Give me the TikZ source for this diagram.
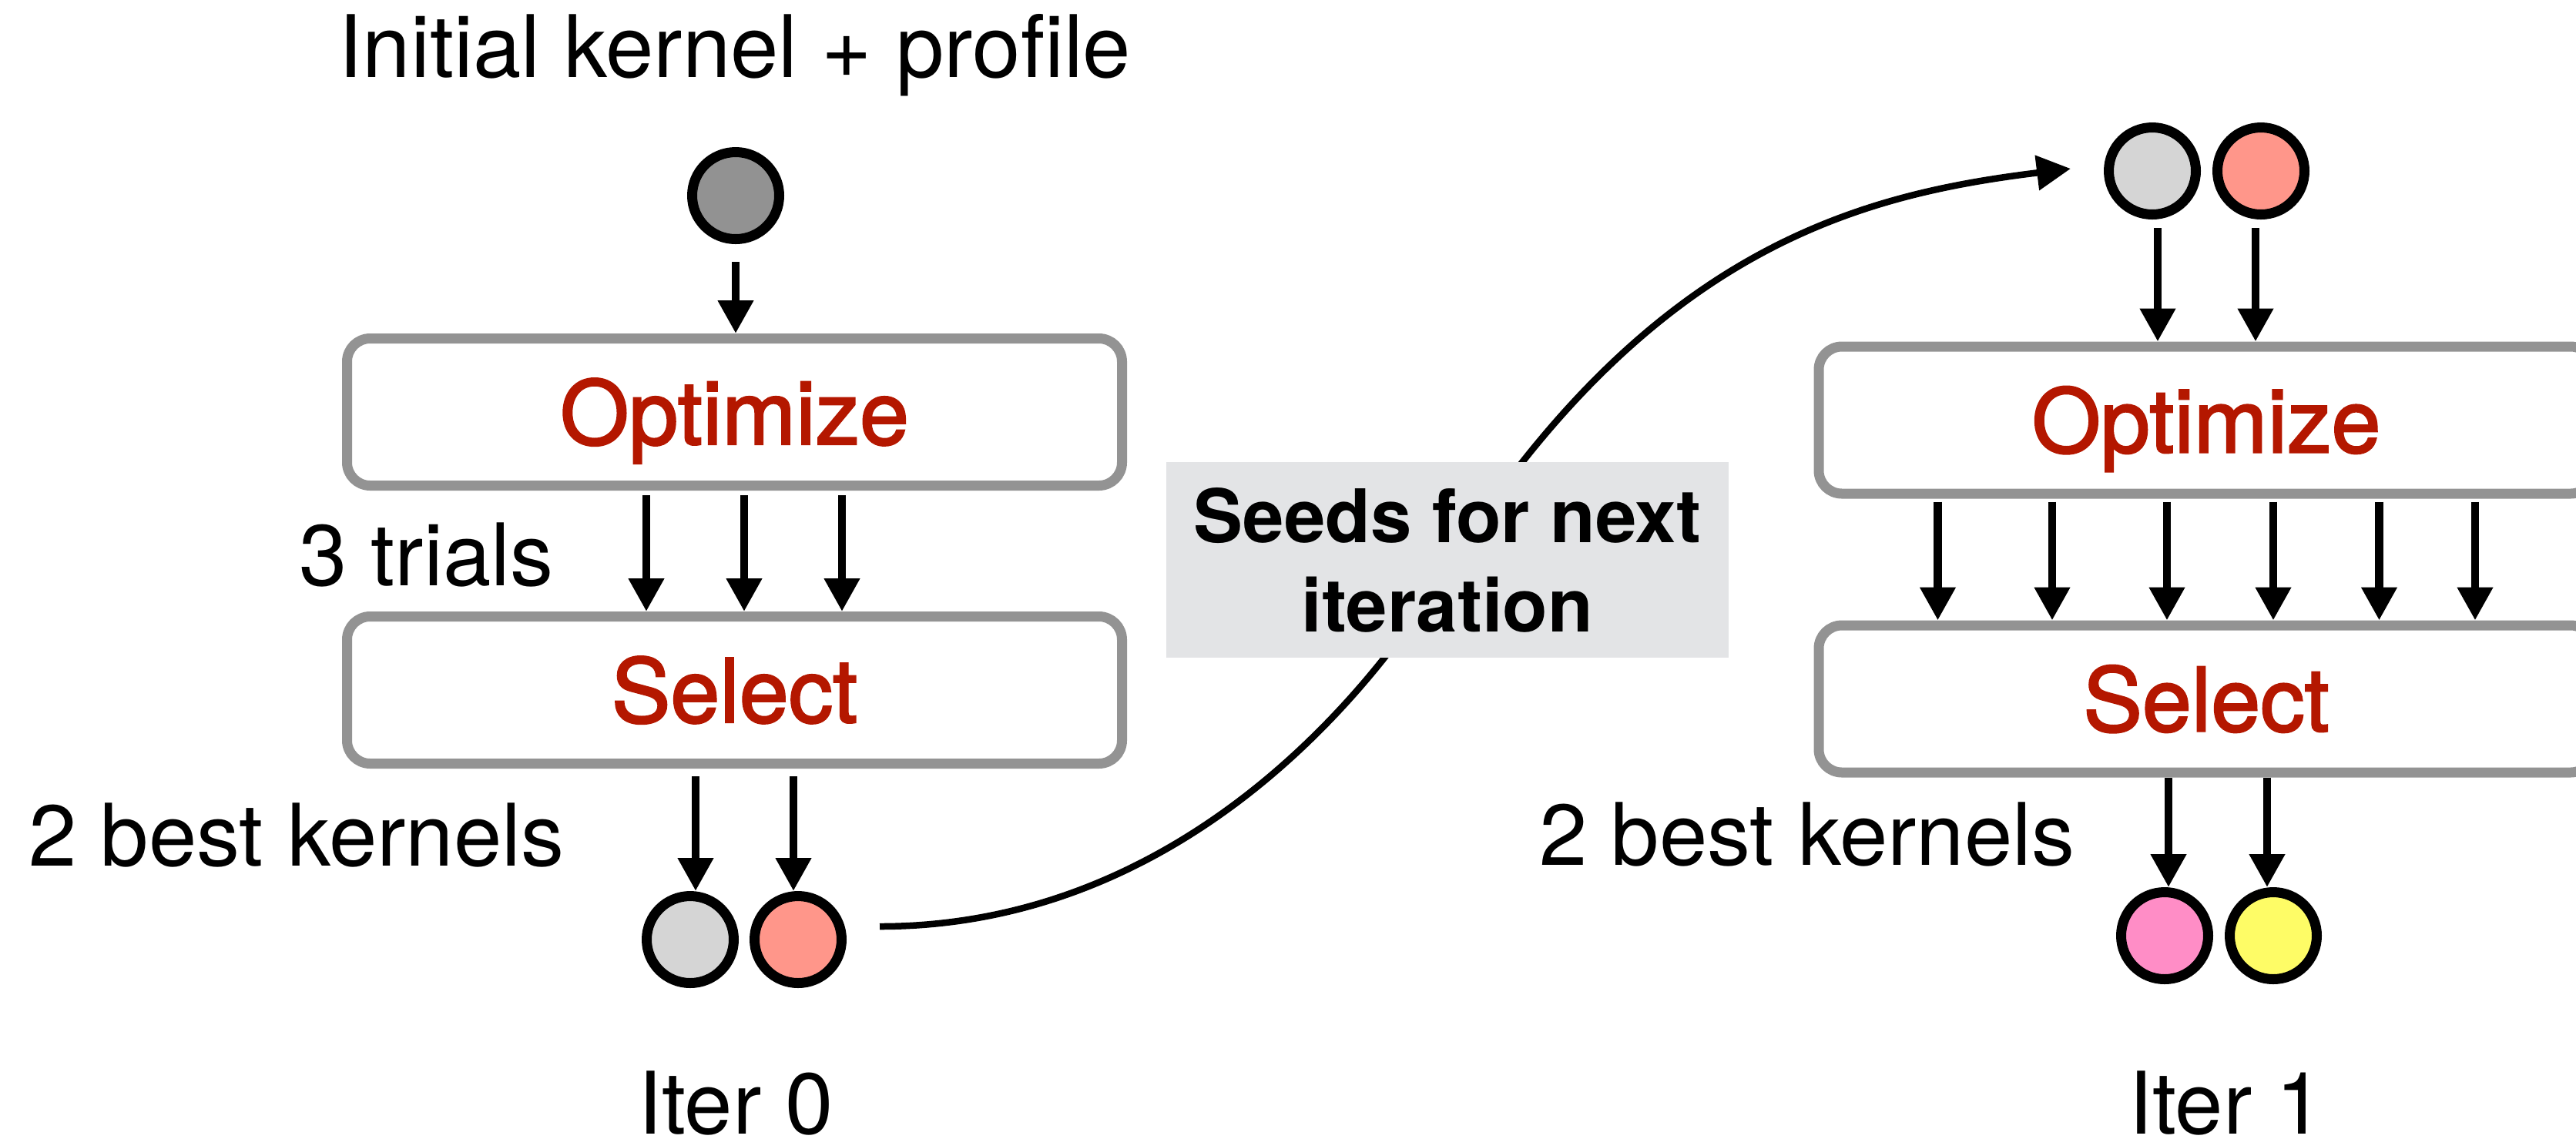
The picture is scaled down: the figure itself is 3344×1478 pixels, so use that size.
\documentclass[tikz,border=0pt]{standalone}
\usepackage{fontspec}
\setmainfont{TeX Gyre Heros}
\newfontfamily\stagefont[FakeBold=2]{TeX Gyre Heros}
\usetikzlibrary{arrows.meta,calc}

\definecolor{boxline}{HTML}{939393}
\definecolor{stepred}{HTML}{B41700}
\definecolor{seedfill}{HTML}{E3E4E6}
\definecolor{kgray}{HTML}{929292}
\definecolor{klight}{HTML}{D5D5D5}
\definecolor{ksalmon}{HTML}{FF968A}
\definecolor{kpink}{HTML}{FF8DC6}
\definecolor{kyellow}{HTML}{FEFC66}

\begin{document}
\begin{tikzpicture}[x=0.1mm, y=-0.1mm,
  stagebox/.style={draw=boxline, line width=1.3mm, rounded corners=3mm,
    minimum width=100.6mm, minimum height=19.1mm, text=stepred,
    font=\stagefont\fontsize{32.7}{39}\selectfont, text height=8.4mm, text depth=0pt, inner sep=0pt},
  kernel/.style={circle, draw=black, line width=1.3mm, minimum size=11.3mm, inner sep=0pt},
  lbl/.style={font=\fontsize{31.9}{38}\selectfont, inner sep=0pt},
  arr/.style={line width=1.05mm, -{Triangle[width=4.4mm,length=4.3mm]}},
  seedarr/.style={line width=0.85mm, -{Triangle[width=4.4mm,length=4.4mm]}},
  seedbox/.style={fill=seedfill, minimum width=73mm, minimum height=25.4mm, inner sep=0pt,
    align=center, font=\fontsize{27.3}{33}\bfseries\selectfont},
]
\useasboundingbox (0,0) rectangle (3344,1478);

% ---------------- iteration 0 ----------------
\node[lbl, anchor=base] (inittxt) at (954,100) {Initial kernel + profile};
\node[kernel, fill=kgray] (init) at (955,254) {};
\node[stagebox] (opt0) at (953.5,535) {Optimize};
\node[stagebox] (sel0) at (953.5,896) {Select};
\node[kernel, fill=klight] (b0g) at (896,1220) {};
\node[kernel, fill=ksalmon] (b0r) at (1036,1220) {};
\node[lbl, anchor=base east] (trials0) at (719,760) {3 trials};
\node[lbl, anchor=base east] (best0) at (733,1124) {2 best kernels};
\node[lbl, anchor=base] (iter0) at (955,1472) {Iter 0};

\draw[arr] ($(init.south)+(0,23)$) -- (init.south |- opt0.north);
\foreach \dx in {-114.5,12.5,139.5}
  \draw[arr] ($(opt0.south)+(\dx,6)$) -- ($(sel0.north)+(\dx,0)$);
\coordinate (in0g) at ($(b0g.north)+(7,0)$);
\coordinate (in0r) at ($(b0r.north)+(-6,0)$);
\draw[arr] ($(in0g |- sel0.south)+(0,10)$) -- (in0g);
\draw[arr] ($(in0r |- sel0.south)+(0,10)$) -- (in0r);

% ---------------- iteration 1 ----------------
\node[kernel, fill=klight] (t1g) at (2794,222) {};
\node[kernel, fill=ksalmon] (t1r) at (2935,222) {};
\node[stagebox] (opt1) at (2864,545.5) {Optimize};
\node[stagebox] (sel1) at (2864,907.5) {Select};
\node[kernel, fill=kpink] (b1p) at (2810,1215) {};
\node[kernel, fill=kyellow] (b1y) at (2951,1215) {};
\node[lbl, anchor=base east] (best1) at (2694,1123) {2 best kernels};
\node[lbl, anchor=base] (iter1) at (2890,1472) {Iter 1};

\coordinate (out1g) at ($(t1g.south)+(7,0)$);
\coordinate (out1r) at ($(t1r.south)+(-7,0)$);
\draw[arr] ($(out1g)+(0,11)$) -- (out1g |- opt1.north);
\draw[arr] ($(out1r)+(0,11)$) -- (out1r |- opt1.north);
\foreach \dx in {-348.5,-200,-51,87,224.5,349}
  \draw[arr] ($(opt1.south)+(\dx,4)$) -- ($(sel1.north)+(\dx,0)$);
\coordinate (in1p) at ($(b1p.north)+(5,0)$);
\coordinate (in1y) at ($(b1y.north)+(-8,0)$);
\draw[arr] (in1p |- sel1.south) -- (in1p);
\draw[arr] (in1y |- sel1.south) -- (in1y);

% ---------------- hand-over between iterations ----------------
\coordinate (seedout) at ($(b0r.east)+(43,-17)$);
\coordinate (seedin) at ($(t1g.west)+(-43,-3)$);
\coordinate (seedmid) at (1873,747);
\draw[seedarr] (seedout) .. controls +(350,0) and +(-133,211.75) .. (seedmid)
  .. controls +(266,-423.5) and +(-277.9,34.2) .. (seedin);
\node[seedbox] (seeds) at (1879,727) {Seeds for next\\iteration};
\end{tikzpicture}
\end{document}
